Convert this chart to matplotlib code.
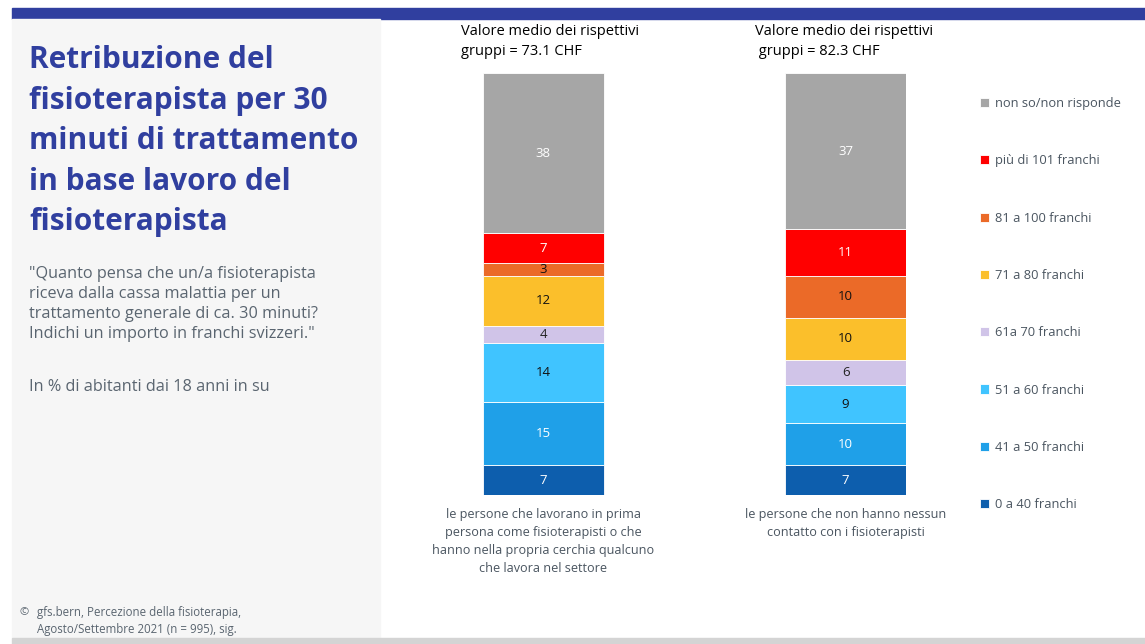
import matplotlib.pyplot as plt
from matplotlib.patches import Rectangle

plt.rcParams['font.family'] = ['Open Sans', 'DejaVu Sans']

# gruppi
groups = ["le persone che lavorano in prima\npersona come fisioterapisti o che\nhanno nella propria cerchia qualcuno\nche lavora nel settore",
          "le persone che non hanno nessun\ncontatto con i fisioterapisti"]
means = ["Valore medio dei rispettivi\ngruppi = 73.1 CHF",
         "Valore medio dei rispettivi\n gruppi = 82.3 CHF"]

# categorie, dal basso verso l'alto
categories = ["0 a 40 franchi", "41 a 50 franchi", "51 a 60 franchi", "61a 70 franchi",
              "71 a 80 franchi", "81 a 100 franchi", "più di 101 franchi",
              "non so/non risponde"]
values_g1 = [7, 15, 14, 4, 12, 3, 7, 38]
values_g2 = [7, 10, 9, 6, 10, 10, 11, 37]

colors = ["#0D5EAD", "#1FA0E8", "#40C4FF", "#D0C4E8",
          "#FBBF2B", "#EB6A28", "#FF0000", "#A6A6A6"]
label_colors = ["white", "white", "#111111", "#222222",
                "#111111", "#111111", "white", "white"]

W, H = 1145, 644
fig = plt.figure(figsize=(W / 100, H / 100), dpi=100)
fig.patch.set_facecolor("white")


def px(x, y):
    # coordinate in pixel (origine in alto a sinistra) -> frazione della figura
    return x / W, 1 - y / H


# fasce decorative
fig.patches.append(Rectangle((12 / W, 1 - 19 / H), 1 - 12 / W, 11 / H,
                             transform=fig.transFigure, color="#303F9F", zorder=0))
fig.patches.append(Rectangle((12 / W, 1 - 637 / H), 368 / W, 618 / H,
                             transform=fig.transFigure, color="#F6F6F6", zorder=0))
fig.patches.append(Rectangle((12 / W, 0), 1 - 12 / W, 6 / H,
                             transform=fig.transFigure, color="#D4D4D4", zorder=0))

# pannello di sinistra
fig.text(*px(29, 45),
         "Retribuzione del\nfisioterapista per 30\nminuti di trattamento\nin base lavoro del\nfisioterapista",
         fontsize=21.5, fontweight="bold", color="#303F9F", va="top", ha="left",
         linespacing=1.46)
fig.text(*px(29, 266),
         "\"Quanto pensa che un/a fisioterapista\nriceva dalla cassa malattia per un\n"
         "trattamento generale di ca. 30 minuti?\nIndichi un importo in franchi svizzeri.\"",
         fontsize=11.7, color="#5A6570", va="top", ha="left", linespacing=1.34)
fig.text(*px(29, 379), "In % di abitanti dai 18 anni in su",
         fontsize=11.7, color="#5A6570", va="top", ha="left")
fig.text(*px(19, 613), "©", fontsize=8, color="#5A6570", va="center", ha="left")
fig.text(*px(37, 606),
         "gfs.bern, Percezione della fisioterapia,\nAgosto/Settembre 2021 (n = 995), sig.",
         fontsize=8.3, color="#5A6570", va="top", ha="left", linespacing=1.42)

# intestazioni con il valore medio
fig.text(*px(461, 24), means[0], ha="left", va="top", fontsize=10.5,
         color="black", linespacing=1.47)
fig.text(*px(755, 24), means[1], ha="left", va="top", fontsize=10.5,
         color="black", linespacing=1.47)

# grafico a barre impilate
ax = fig.add_axes([483 / W, 1 - 495 / H, 423 / W, 422 / H])
ax.set_xlim(-0.2, 1.2)
ax.set_ylim(0, 100)
ax.axis("off")

x = [0, 1]
bottoms = [0, 0]
handles = []
for i, cat in enumerate(categories):
    vals = [values_g1[i], values_g2[i]]
    bars = ax.bar(x, vals, width=0.4, bottom=bottoms, color=colors[i],
                  edgecolor="white", linewidth=0.6, label=cat)
    handles.append(bars)
    for xi, v, b in zip(x, vals, bottoms):
        ax.text(xi, b + v / 2, str(v), ha="center", va="center",
                fontsize=9.5, color=label_colors[i])
    bottoms = [b + v for b, v in zip(bottoms, vals)]

for xi, txt in zip(x, groups):
    ax.text(xi, -3.1, txt, ha="center", va="top", fontsize=9.1, color="#4A5560",
            linespacing=1.5, clip_on=False)

fig.legend(handles[::-1], categories[::-1], loc="upper left",
           bbox_to_anchor=px(980, 97), bbox_transform=fig.transFigure,
           frameon=False, fontsize=9.3, labelcolor="#4A5560",
           handlelength=0.7, handleheight=0.7, handletextpad=0.45,
           labelspacing=3.43, borderpad=0, borderaxespad=0)

fig.savefig("out.png", dpi=100)
